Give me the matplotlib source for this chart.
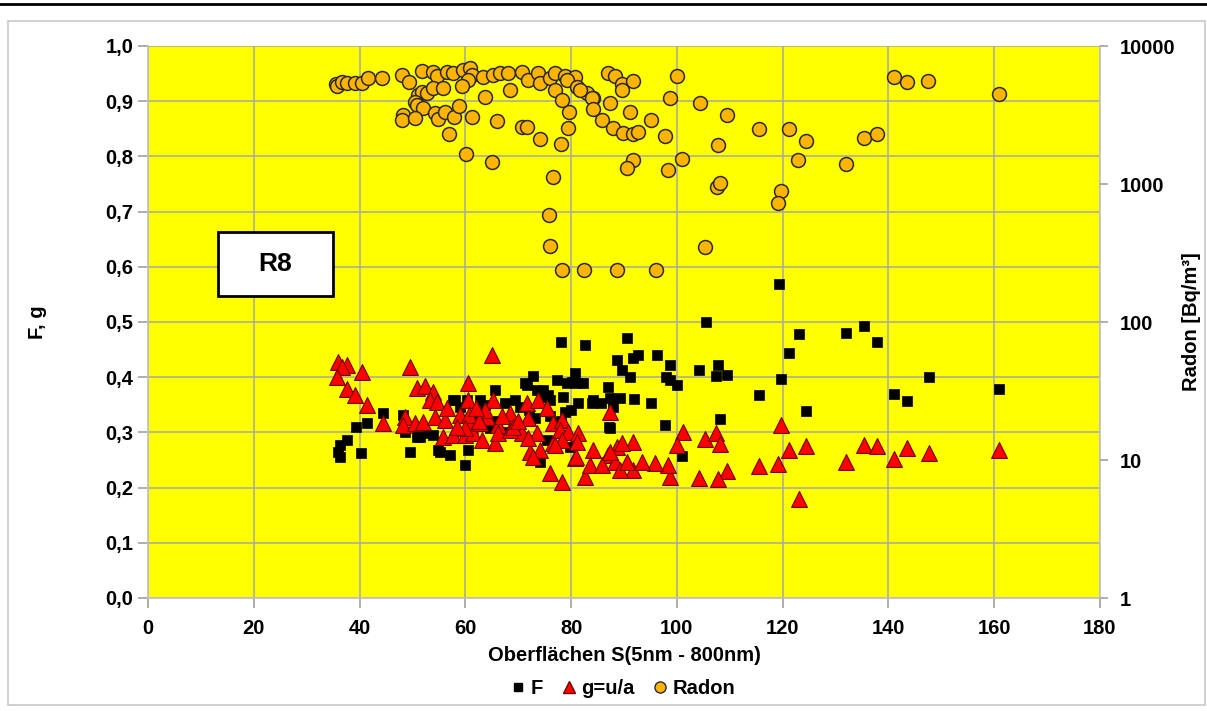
import matplotlib
matplotlib.use('Agg')
import matplotlib.pyplot as plt
from matplotlib.patches import Rectangle
from matplotlib.lines import Line2D
from matplotlib.ticker import FixedLocator, FuncFormatter, NullLocator

plt.rcParams['font.family'] = ['Liberation Sans', 'DejaVu Sans']
plt.rcParams['font.weight'] = 'bold'

# F (black squares): surface S vs F
f_S = [36.3, 35.9, 36.3, 37.6, 39.3, 41.4, 44.4, 40.3, 49.5, 48.2, 50.9, 52.4, 53.9, 55.2,
       57.1, 58.0, 59.9, 60.5, 63.7, 65.6, 64.7, 72.8, 71.7, 74.7, 77.3, 78.0, 70.3, 75.6,
       74.1, 71.7, 82.6, 88.7, 71.3, 80.7, 79.2, 81.1, 73.5, 75.1, 78.5, 81.3, 84.1, 87.0,
       87.4, 87.9, 62.8, 60.3, 67.5, 69.4, 87.4, 73.2, 75.4, 79.8, 119.3, 105.5, 90.6, 123.1,
       132.0, 135.4, 137.8, 121.2, 92.6, 91.7, 96.2, 89.6, 91.1, 98.7, 98.7, 100.0, 98.0,
       104.2, 107.8, 107.4, 109.5, 119.7, 115.5, 147.7, 141.0, 143.5, 160.9, 124.4, 108.1,
       97.7, 87.2, 95.1, 91.9, 89.2, 83.9, 85.6, 101.0, 80.2, 82.2, 48.6, 51.4, 57.7, 59.0,
       54.8, 62.0, 66.0, 68.0, 70.0, 72.0, 76.0, 78.0, 80.0, 76.0, 78.8]
f_val = [0.277, 0.264, 0.255, 0.286, 0.310, 0.317, 0.335, 0.263, 0.264, 0.332, 0.292, 0.299,
         0.295, 0.264, 0.259, 0.359, 0.241, 0.268, 0.350, 0.377, 0.308, 0.402, 0.386, 0.377,
         0.395, 0.463, 0.346, 0.368, 0.246, 0.286, 0.458, 0.431, 0.390, 0.408, 0.390, 0.390,
         0.377, 0.364, 0.364, 0.353, 0.359, 0.382, 0.362, 0.346, 0.359, 0.359, 0.353, 0.359,
         0.308, 0.326, 0.286, 0.274, 0.569, 0.500, 0.471, 0.478, 0.480, 0.493, 0.464, 0.444,
         0.440, 0.435, 0.440, 0.413, 0.400, 0.422, 0.395, 0.386, 0.400, 0.413, 0.422, 0.402,
         0.404, 0.397, 0.368, 0.400, 0.370, 0.357, 0.379, 0.339, 0.324, 0.313, 0.310, 0.353,
         0.361, 0.362, 0.353, 0.353, 0.257, 0.391, 0.390, 0.301, 0.292, 0.359, 0.346, 0.268,
         0.330, 0.320, 0.300, 0.310, 0.340, 0.330, 0.320, 0.340, 0.359, 0.337]

# g = u/a (red triangles)
g_S = [35.9, 37.6, 36.7, 40.5, 35.7, 37.6, 39.1, 41.4, 44.4, 49.5, 65.0, 50.9, 52.4, 53.9,
       53.3, 54.6, 48.6, 48.2, 50.5, 52.0, 54.3, 56.2, 55.8, 57.7, 59.0, 60.5, 60.5, 60.9,
       59.9, 61.4, 65.2, 64.1, 66.2, 65.6, 68.4, 70.7, 71.7, 71.8, 73.7, 72.2, 74.1, 75.4,
       76.0, 76.6, 76.6, 63.7, 78.3, 87.4, 73.5, 77.9, 79.4, 81.3, 78.3, 77.0, 81.1, 84.1,
       87.0, 80.7, 72.8, 78.3, 82.6, 83.6, 85.8, 88.7, 88.3, 119.7, 121.2, 124.4, 115.5,
       119.1, 123.1, 132.0, 135.4, 137.8, 141.0, 143.5, 147.7, 160.9, 101.2, 105.3, 107.4,
       108.1, 109.5, 107.8, 104.2, 98.7, 100.0, 98.3, 95.9, 91.7, 89.6, 87.4, 91.7, 89.2,
       93.4, 90.6, 80.9, 60.7, 59.9, 62.8, 63.1, 66.2, 68.4, 71.8, 56.5, 58.5, 62.5, 67.0,
       69.0, 70.0, 62.0]
g_val = [0.428, 0.422, 0.419, 0.410, 0.400, 0.379, 0.368, 0.350, 0.317, 0.419, 0.440, 0.380,
         0.384, 0.373, 0.359, 0.355, 0.328, 0.313, 0.317, 0.319, 0.328, 0.322, 0.292, 0.295,
         0.332, 0.389, 0.359, 0.313, 0.295, 0.299, 0.359, 0.328, 0.313, 0.281, 0.335, 0.299,
         0.353, 0.326, 0.359, 0.264, 0.268, 0.344, 0.226, 0.317, 0.281, 0.341, 0.322, 0.337,
         0.299, 0.304, 0.301, 0.299, 0.286, 0.277, 0.283, 0.268, 0.259, 0.254, 0.255, 0.210,
         0.219, 0.241, 0.241, 0.274, 0.246, 0.313, 0.268, 0.275, 0.239, 0.243, 0.179, 0.246,
         0.277, 0.275, 0.252, 0.272, 0.263, 0.268, 0.301, 0.288, 0.299, 0.279, 0.230, 0.216,
         0.217, 0.219, 0.277, 0.241, 0.245, 0.283, 0.281, 0.264, 0.232, 0.232, 0.246, 0.246,
         0.255, 0.332, 0.308, 0.317, 0.286, 0.299, 0.304, 0.290, 0.345, 0.310, 0.320, 0.330,
         0.310, 0.320, 0.345]

# Radon [Bq/m3] (orange circles, right log axis)
rn_S = [35.5, 35.7, 36.7, 37.6, 39.1, 40.5, 41.6, 44.2, 48.0, 49.3, 51.8, 53.9, 54.6, 56.5,
        57.7, 59.6, 60.9, 61.3, 60.5, 59.4, 63.3, 65.2, 66.6, 68.1, 70.7, 71.8, 73.7, 74.1,
        76.0, 77.0, 78.8, 80.7, 77.0, 79.2, 81.1, 83.0, 84.1, 87.0, 88.3, 89.6, 89.6, 91.7,
        100.0, 98.7, 104.4, 109.5, 141.0, 143.5, 147.5, 160.9,
        51.0, 51.8, 52.8, 53.9, 55.8, 50.5, 50.9, 52.0, 48.2, 48.0, 50.5, 54.3, 54.8, 56.2,
        57.9, 58.8, 61.3, 63.7, 68.4, 66.0, 56.9, 60.1, 65.0, 70.7, 71.7, 74.1, 76.6, 78.1,
        79.4, 79.6, 78.3, 81.7, 83.9, 84.1, 85.8, 87.4, 87.9, 89.8, 91.7, 92.6, 91.1, 91.7,
        90.6, 95.1, 97.8, 98.3, 101.0, 107.8, 107.6, 108.1, 105.3, 115.5, 121.2, 124.4,
        122.9, 119.7, 119.1, 132.0, 135.4, 137.8, 75.8, 76.0, 78.3, 82.4, 88.7, 96.0]
rn_val = [5300, 5130, 5480, 5390, 5390, 5390, 5860, 5860, 6170, 5480, 6590, 6480, 6070, 6480,
          6370, 6700, 6930, 6170, 5670, 5130, 5960, 6170, 6370, 6370, 6480, 5670, 6370, 5390,
          5860, 6370, 6070, 5960, 4800, 5670, 5050, 4570, 4200, 6370, 6070, 5300, 4800, 5580,
          6070, 4200, 3860, 3160, 5960, 5480, 5580, 4490,
          4420, 4640, 4570, 4960, 4960, 3930, 3740, 3550, 3160, 2910, 3010, 3270, 2960, 3320,
          3060, 3680, 3060, 4270, 4800, 2860, 2300, 1650, 1440, 2590, 2590, 2120, 1120, 1950,
          2550, 3320, 4060, 4800, 4200, 3490, 2910, 3860, 2550, 2340, 2300, 2380, 3320, 1490,
          1310, 2910, 2230, 1260, 1520, 1920, 951, 1020, 350, 2500, 2500, 2050,
          1490, 890, 728, 1400, 2160, 2300, 596, 356, 238, 238, 238, 238]

x_ticks = [0, 20, 40, 60, 80, 100, 120, 140, 160, 180]
fg_ticks = [0.0, 0.1, 0.2, 0.3, 0.4, 0.5, 0.6, 0.7, 0.8, 0.9, 1.0]
rn_ticks = [1, 10, 100, 1000, 10000]

fig = plt.figure(figsize=(12.07, 7.11), dpi=100)
fig.patch.set_facecolor('white')

# outer chart frame and rule line on top
fig.add_artist(Rectangle((8 / 1207, 6 / 711), 1197 / 1207, 684 / 711, transform=fig.transFigure,
                         facecolor='none', edgecolor='#c8c8c8', linewidth=1.2))
fig.add_artist(Line2D([0, 1], [1 - 4 / 711, 1 - 4 / 711], transform=fig.transFigure,
                      color='black', linewidth=2))

ax = fig.add_axes([148 / 1207, 113 / 711, 952 / 1207, 552 / 711])
ax.set_facecolor('#ffff00')
ax.set_xlim(0, 180)
ax.set_ylim(0, 1.0)
ax.xaxis.set_major_locator(FixedLocator(x_ticks))
ax.yaxis.set_major_locator(FixedLocator(fg_ticks))
ax.yaxis.set_major_formatter(FuncFormatter(lambda v, p: ('%.1f' % v).replace('.', ',')))
ax.grid(True, color='#a8a8a0', linewidth=1.1)
ax.set_axisbelow(True)
for s in ax.spines.values():
    s.set_color('#c0c0c0')
    s.set_linewidth(1.2)
ax.spines['top'].set_visible(False)
ax.tick_params(axis='both', colors='#a0a0a0', labelcolor='black', labelsize=14.5,
               length=7, width=1.2, direction='out')
ax.tick_params(axis='x', pad=8)
for lab in ax.get_xticklabels() + ax.get_yticklabels():
    lab.set_fontweight('bold')

ax.scatter(f_S, f_val, marker='s', s=58, color='black', edgecolors='black',
           linewidths=0.5, zorder=3)
ax.scatter(g_S, g_val, marker='^', s=130, color='#ff0000', edgecolors='#700000',
           linewidths=0.8, zorder=4)

ax.set_xlabel('Oberflächen S(5nm - 800nm)', fontsize=14.5, fontweight='bold', labelpad=6)
ax.set_ylabel('F, g', fontsize=14.5, fontweight='bold')
ax.yaxis.set_label_coords(-0.106, 0.5)

ax2 = ax.twinx()
ax2.set_yscale('log')
ax2.set_ylim(1, 10000)
ax2.yaxis.set_major_locator(FixedLocator(rn_ticks))
ax2.yaxis.set_minor_locator(NullLocator())
ax2.yaxis.set_major_formatter(FuncFormatter(lambda v, p: '%d' % v))
for s in ax2.spines.values():
    s.set_visible(False)
ax2.tick_params(axis='y', colors='#a0a0a0', labelcolor='black', labelsize=14.5,
                length=6, width=1.2, direction='out', pad=8)
for lab in ax2.get_yticklabels():
    lab.set_fontweight('bold')
ax2.scatter(rn_S, rn_val, marker='o', s=100, color='#ffb400', edgecolors='#2a2a2a',
            linewidths=1.1, zorder=5)
ax2.set_ylabel('Radon [Bq/m³]', fontsize=14.5, fontweight='bold')
ax2.yaxis.set_label_coords(1.086, 0.5)

# R8 label box
ax.add_patch(Rectangle((0.0735, 0.547), 0.1208, 0.116, transform=ax.transAxes,
                       facecolor='white', edgecolor='black', linewidth=2, zorder=6))
ax.text(0.0735 + 0.1208 / 2, 0.547 + 0.116 / 2, 'R8', transform=ax.transAxes,
        ha='center', va='center', fontsize=19, fontweight='bold', zorder=7)

handles = [
    Line2D([], [], marker='s', color='black', linestyle='none', markersize=6),
    Line2D([], [], marker='^', color='#ff0000', markeredgecolor='#700000', linestyle='none', markersize=9),
    Line2D([], [], marker='o', color='#ffb400', markeredgecolor='#2a2a2a', linestyle='none', markersize=8),
]
fig.legend(handles, ['F', 'g=u/a', 'Radon'], loc='center', bbox_to_anchor=(0.515, 0.032),
           ncol=3, frameon=False, handletextpad=0.1, columnspacing=0.8,
           handlelength=1.0, prop={'size': 14.5, 'weight': 'bold'})

fig.savefig('out.png', dpi=100)
